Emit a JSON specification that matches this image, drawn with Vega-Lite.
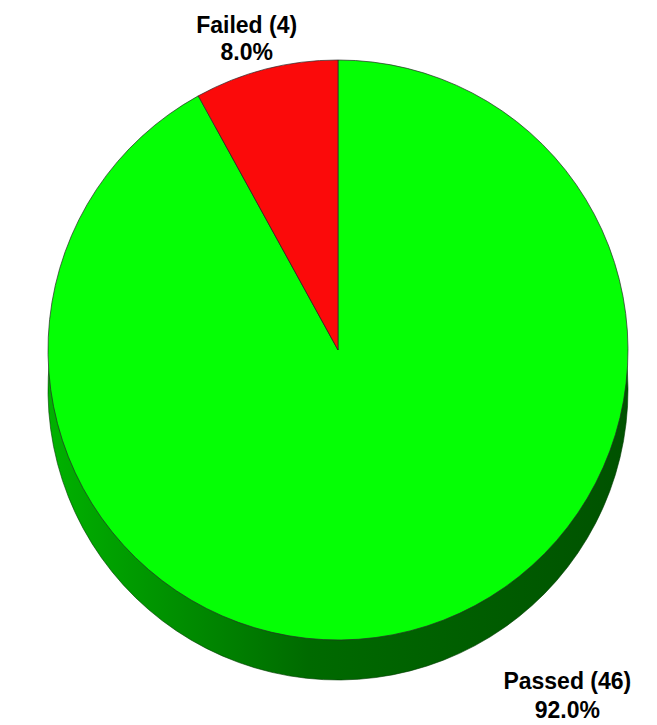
{
  "$schema": "https://vega.github.io/schema/vega-lite/v6.json",
  "width": 638,
  "height": 700,
  "autosize": "none",
  "padding": {"left": 19, "right": 0, "top": 0, "bottom": 25},
  "background": "white",
  "config": {"view": {"stroke": null}},
  "data": {
    "values": [
      {"status": "Passed", "count": 46, "label": "Passed (46)\n92.0%"},
      {"status": "Failed", "count": 4, "label": "Failed (4)\n8.0%"}
    ]
  },
  "encoding": {
    "theta": {"field": "count", "type": "quantitative", "stack": true},
    "order": {"field": "count", "type": "quantitative", "sort": "descending"}
  },
  "layer": [
    {
      "mark": {
        "type": "arc",
        "radius": 290,
        "yOffset": 40,
        "color": {
          "gradient": "linear",
          "x1": 0, "x2": 1, "y1": 0, "y2": 0,
          "stops": [
            {"offset": 0, "color": "#00b200"},
            {"offset": 0.45, "color": "#006a00"},
            {"offset": 1, "color": "#005200"}
          ]
        },
        "stroke": "#003a00",
        "strokeWidth": 0.6
      }
    },
    {
      "mark": {"type": "arc", "radius": 290, "stroke": "#2a2a2a", "strokeWidth": 0.7},
      "encoding": {
        "color": {
          "field": "status",
          "type": "nominal",
          "scale": {"domain": ["Passed", "Failed"], "range": ["#05ff05", "#fb0a0a"]},
          "legend": null
        }
      }
    },
    {
      "mark": {
        "type": "text",
        "radius": 335,
        "dx": -8,
        "font": "Liberation Sans",
        "fontWeight": "bold",
        "fontSize": 23,
        "lineHeight": 27,
        "lineBreak": "\n",
        "align": "center",
        "baseline": "middle",
        "color": "black"
      },
      "encoding": {
        "text": {
          "condition": {"test": "datum.status === 'Failed'", "field": "label"},
          "value": ""
        }
      }
    },
    {
      "mark": {
        "type": "text",
        "radius": 343,
        "dx": 144,
        "font": "Liberation Sans",
        "fontWeight": "bold",
        "fontSize": 23,
        "lineHeight": 29,
        "lineBreak": "\n",
        "align": "center",
        "baseline": "middle",
        "color": "black"
      },
      "encoding": {
        "text": {
          "condition": {"test": "datum.status === 'Passed'", "field": "label"},
          "value": ""
        }
      }
    }
  ]
}
